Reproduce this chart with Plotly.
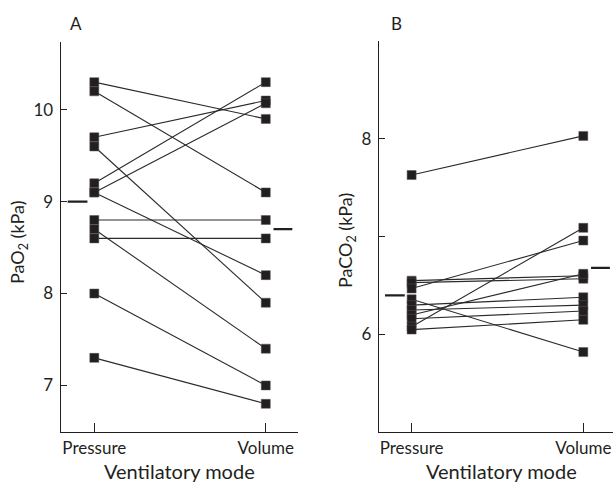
import plotly.graph_objects as go

# ---------------- data ----------------
modes = ["Pressure", "Volume"]

pao2_pressure = [10.3, 10.2, 9.7, 9.6, 9.2, 9.1, 9.1, 8.8, 8.7, 8.6, 8.0, 7.3]
pao2_volume = [9.9, 9.1, 10.1, 7.9, 10.3, 10.07, 8.2, 8.8, 7.4, 8.6, 7.0, 6.8]
pao2_means = [9.0, 8.7]

paco2_pressure = [7.63, 6.55, 6.53, 6.47, 6.36, 6.30, 6.25, 6.20, 6.16, 6.08, 6.05]
paco2_volume = [8.03, 6.60, 6.57, 6.96, 5.82, 6.38, 6.30, 6.62, 6.24, 7.09, 6.15]
paco2_means = [6.40, 6.68]

pao2_ticks = [7, 8, 9, 10]
paco2_ticks = [6, 7, 8, 9]
paco2_ticktext = ["6", "", "8", ""]

INK = "#231f20"
FONT = "Lato"
W, H = 613, 483


def paired_lines(pre, post):
    xs, ys = [], []
    for a, b in zip(pre, post):
        xs += [0, 1, None]
        ys += [a, b, None]
    return xs, ys


def mean_dashes(means):
    xs, ys = [], []
    offsets = [(-0.155, -0.04), (1.045, 1.155)]
    for (o1, o2), m in zip(offsets, means):
        xs += [o1, o2, None]
        ys += [m, m, None]
    return xs, ys


fig = go.Figure()

for pre, post, means, xa, ya in [
    (pao2_pressure, pao2_volume, pao2_means, "x", "y"),
    (paco2_pressure, paco2_volume, paco2_means, "x2", "y2"),
]:
    lx, ly = paired_lines(pre, post)
    fig.add_trace(go.Scatter(x=lx, y=ly, mode="lines", xaxis=xa, yaxis=ya,
                             line=dict(color="#2a2a2a", width=1.1),
                             hoverinfo="skip", showlegend=False))
    fig.add_trace(go.Scatter(x=[0] * len(pre) + [1] * len(post), y=pre + post,
                             mode="markers", xaxis=xa, yaxis=ya,
                             marker=dict(symbol="square", size=9, color=INK,
                                         line=dict(color="#555555", width=0.5)),
                             showlegend=False))
    mx, my = mean_dashes(means)
    fig.add_trace(go.Scatter(x=mx, y=my, mode="lines", xaxis=xa, yaxis=ya,
                             line=dict(color=INK, width=2.2),
                             hoverinfo="skip", showlegend=False))

axis_common = dict(showline=True, linecolor=INK, linewidth=1.3, showgrid=False,
                   zeroline=False, ticks="inside", tickcolor=INK, tickwidth=1)

xfont = dict(family=FONT, size=17, color=INK)
yfont = dict(family=FONT, size=17, color=INK)

fig.update_layout(
    width=W, height=H,
    margin=dict(l=0, r=0, t=0, b=0),
    paper_bgcolor="white", plot_bgcolor="white",
    font=dict(family=FONT, color=INK),
    xaxis=dict(domain=[60.7 / W, 298 / W], range=[-0.196, 1.188],
               tickvals=[0, 1], ticktext=modes, ticklen=9, tickfont=xfont,
               **axis_common),
    yaxis=dict(domain=[1 - 432.3 / H, 1 - 41.7 / H], range=[6.49, 10.74],
               tickvals=pao2_ticks, ticklen=6, anchor="x", tickfont=yfont,
               ticklabelstandoff=3, **axis_common),
    xaxis2=dict(domain=[379 / W, 1.0], range=[-0.19, 1.173],
                tickvals=[0, 1], ticktext=modes, ticklen=9, anchor="y2",
                tickfont=xfont, **axis_common),
    yaxis2=dict(domain=[1 - 432.3 / H, 1 - 41 / H], range=[5.0, 9.0],
                tickvals=paco2_ticks, ticktext=paco2_ticktext, ticklen=6,
                anchor="x2", tickfont=yfont, ticklabelstandoff=3, **axis_common),
)

ann = [
    dict(text="A", x=76 / W, y=1 - 23 / H, size=17),
    dict(text="B", x=396 / W, y=1 - 23 / H, size=17),
    dict(text="Ventilatory mode", x=179 / W, y=1 - 471 / H, size=20),
    dict(text="Ventilatory mode", x=501.7 / W, y=1 - 471 / H, size=20),
]
for a in ann:
    fig.add_annotation(text=a["text"], x=a["x"], y=a["y"], xref="paper", yref="paper",
                       showarrow=False, xanchor="center", yanchor="middle",
                       font=dict(family=FONT, size=a["size"], color=INK))

for txt, x, y in [("PaO<sub>2</sub> (kPa)", 18 / W, 1 - 242 / H),
                  ("PaCO<sub>2</sub> (kPa)", 346 / W, 1 - 241 / H)]:
    fig.add_annotation(text=txt, x=x, y=y, xref="paper", yref="paper",
                       showarrow=False, textangle=-90, xanchor="center", yanchor="middle",
                       font=dict(family=FONT, size=18, color=INK))

fig.write_html("out.html",
               config={"displayModeBar": False},
               post_script="document.body.style.margin='0';"
                           "document.body.style.overflow='hidden';")
